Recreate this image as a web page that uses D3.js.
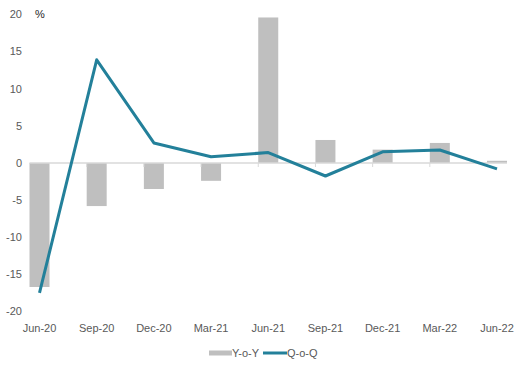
<!DOCTYPE html>
<html>
<head>
<meta charset="utf-8">
<script src="https://cdn.jsdelivr.net/npm/d3@7"></script>
<style>
	body { margin: 0; background: #fff; }
	svg text { font-family: 'Liberation Sans Narrow', 'Liberation Sans', sans-serif; }
</style>
</head>
<body>
<svg id="chart"></svg>
<script>
const categories = ['Jun-20', 'Sep-20', 'Dec-20', 'Mar-21', 'Jun-21', 'Sep-21', 'Dec-21', 'Mar-22', 'Jun-22'];
const yoy = [-16.7, -5.8, -3.5, -2.4, 19.6, 3.1, 1.8, 2.7, 0.3];
const qoq = [-17.5, 13.9, 2.7, 0.85, 1.4, -1.75, 1.5, 1.75, -0.8];
const yTicks = [-20, -15, -10, -5, 0, 5, 10, 15, 20];

const width = 519;
const height = 373;
const barWidth = 20;

const svg = d3.select('#chart')
	.attr('width', width)
	.attr('height', height);

const x = d3.scalePoint()
	.domain(categories)
	.range([39.5, 497]);

const y = d3.scaleLinear()
	.domain([-20, 20])
	.range([311.5, 14.5]);

// y tick labels
svg.append('g')
	.selectAll('text')
	.data(yTicks)
	.enter()
		.append('text')
		.attr('x', 22)
		.attr('y', d => y(d))
		.attr('dy', '0.35em')
		.attr('text-anchor', 'end')
		.attr('font-size', 11)
		.attr('fill', '#595959')
		.text(d => d);

svg.append('text')
	.attr('x', 35)
	.attr('y', y(20))
	.attr('dy', '0.35em')
	.attr('font-size', 11)
	.attr('fill', '#262626')
	.text('%');

// bars
svg.append('g')
	.selectAll('rect')
	.data(yoy)
	.enter()
		.append('rect')
		.attr('x', (d, i) => x(categories[i]) - barWidth / 2)
		.attr('width', barWidth)
		.attr('y', d => y(Math.max(0, d)))
		.attr('height', d => Math.abs(y(d) - y(0)))
		.attr('fill', '#bfbfbf');

// zero axis line with ticks
const x0 = x(categories[0]) - barWidth / 2;
const x1 = x(categories[categories.length - 1]) + barWidth / 2;
svg.append('line')
	.attr('x1', x0)
	.attr('x2', x1)
	.attr('y1', y(0))
	.attr('y2', y(0))
	.attr('stroke', '#d9d9d9')
	.attr('stroke-width', 1.5);

svg.append('g')
	.selectAll('line')
	.data(categories.slice(1))
	.enter()
		.append('line')
		.attr('x1', d => x(d) - barWidth / 2)
		.attr('x2', d => x(d) - barWidth / 2)
		.attr('y1', y(0))
		.attr('y2', y(0) + 4)
		.attr('stroke', '#d9d9d9')
		.attr('stroke-width', 1);

// x labels
svg.append('g')
	.selectAll('text')
	.data(categories)
	.enter()
		.append('text')
		.attr('x', d => x(d))
		.attr('y', 328)
		.attr('dy', '0.35em')
		.attr('text-anchor', 'middle')
		.attr('font-size', 11)
		.attr('fill', '#595959')
		.text(d => d);

// Q-o-Q line
const line = d3.line()
	.x((d, i) => x(categories[i]))
	.y(d => y(d));

svg.append('path')
	.datum(qoq)
	.attr('d', line)
	.attr('fill', 'none')
	.attr('stroke', '#23809a')
	.attr('stroke-width', 3)
	.attr('stroke-linejoin', 'round');

// legend
const legend = svg.append('g');
legend.append('rect')
	.attr('x', 209)
	.attr('y', 350.5)
	.attr('width', 23)
	.attr('height', 5)
	.attr('fill', '#bfbfbf');
legend.append('text')
	.attr('x', 232)
	.attr('y', 353)
	.attr('dy', '0.35em')
	.attr('font-size', 11)
	.attr('fill', '#595959')
	.text('Y-o-Y');
legend.append('line')
	.attr('x1', 263)
	.attr('x2', 287)
	.attr('y1', 353)
	.attr('y2', 353)
	.attr('stroke', '#23809a')
	.attr('stroke-width', 3);
legend.append('text')
	.attr('x', 287)
	.attr('y', 353)
	.attr('dy', '0.35em')
	.attr('font-size', 11)
	.attr('fill', '#595959')
	.text('Q-o-Q');
</script>
</body>
</html>
